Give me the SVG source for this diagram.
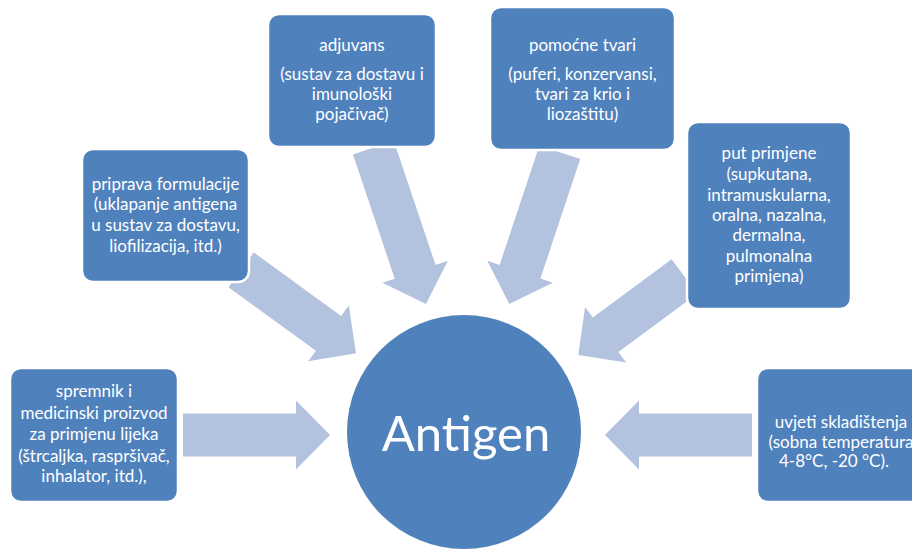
<svg xmlns="http://www.w3.org/2000/svg" width="912" height="554" viewBox="0 0 912 554">
<style>
.arrow{fill:#B3C2DE}
.box{fill:#4F81BD;stroke:#FFFFFF;stroke-width:2.5}
.t{font-family:Lato,"Liberation Sans",sans-serif;font-size:17px;fill:#FFFFFF;text-anchor:middle}
.big{font-family:Lato,"Liberation Sans",sans-serif;font-size:49px;fill:#FFFFFF;text-anchor:middle}
</style>
<rect width="912" height="554" fill="#FFFFFF"/>
<g id="connectors">
<polygon class="arrow" transform="translate(330,435)" points="-147,-21.5 -34,-21.5 -34,-34.5 0,0 -34,34.5 -34,21.5 -147,21.5"/>
<polygon class="arrow" transform="translate(605,435) rotate(180)" points="-147,-21.5 -34,-21.5 -34,-34.5 0,0 -34,34.5 -34,21.5 -147,21.5"/>
<polygon class="arrow" transform="translate(426,304) rotate(71.4)" points="-165,-21.5 -34,-21.5 -34,-34.5 0,0 -34,34.5 -34,21.5 -165,21.5"/>
<polygon class="arrow" transform="translate(509.3,304) rotate(108.4)" points="-160,-21.5 -34,-21.5 -34,-34.5 0,0 -34,34.5 -34,21.5 -160,21.5"/>
<polygon class="arrow" transform="translate(578.3,355) rotate(143.5)" points="-132,-21.5 -34,-21.5 -34,-34.5 0,0 -34,34.5 -34,21.5 -132,21.5"/>
<polygon class="arrow" transform="translate(356,353.3) rotate(36)" points="-142,-21.5 -34,-21.5 -34,-34.5 0,0 -34,34.5 -34,21.5 -142,21.5"/>
</g>
<g id="antigen">
<circle cx="464" cy="432" r="117" fill="#4F81BD"/>
<text class="big" x="466" y="451">Antigen</text>
</g>
<g id="adjuvans">
<rect class="box" x="268" y="14" width="168" height="133" rx="11"/>
<text class="t" x="352" y="51">adjuvans</text>
<text class="t" x="352" y="80">(sustav za dostavu i</text>
<text class="t" x="352" y="100">imunološki</text>
<text class="t" x="352" y="120">pojačivač)</text>
</g>
<g id="pomocne">
<rect class="box" x="490" y="7" width="185" height="143" rx="11"/>
<text class="t" x="582.5" y="51">pomoćne tvari</text>
<text class="t" x="582.5" y="80">(puferi, konzervansi,</text>
<text class="t" x="582.5" y="100">tvari za krio i</text>
<text class="t" x="582.5" y="120">liozaštitu)</text>
</g>
<g id="priprava">
<rect class="box" x="82" y="149" width="167" height="133" rx="11"/>
<text class="t" x="165.5" y="189.5">priprava formulacije</text>
<text class="t" x="165.5" y="210">(uklapanje antigena</text>
<text class="t" x="165.5" y="230.5">u sustav za dostavu,</text>
<text class="t" x="165.5" y="251.5">liofilizacija, itd.)</text>
</g>
<g id="put">
<rect class="box" x="687" y="122" width="164" height="187" rx="11"/>
<text class="t" x="769" y="159">put primjene</text>
<text class="t" x="769" y="180">(supkutana,</text>
<text class="t" x="769" y="200.5">intramuskularna,</text>
<text class="t" x="769" y="220.5">oralna, nazalna,</text>
<text class="t" x="769" y="241">dermalna,</text>
<text class="t" x="769" y="261.5">pulmonalna</text>
<text class="t" x="769" y="281.5">primjena)</text>
</g>
<g id="spremnik">
<rect class="box" x="10" y="368" width="168" height="134" rx="11"/>
<text class="t" x="94" y="397">spremnik i</text>
<text class="t" x="94" y="419">medicinski proizvod</text>
<text class="t" x="94" y="440">za primjenu lijeka</text>
<text class="t" x="94" y="461.5">(štrcaljka, raspršivač,</text>
<text class="t" x="94" y="482">inhalator, itd.),</text>
</g>
<g id="uvjeti">
<rect class="box" x="757" y="368" width="168" height="134" rx="11"/>
<text class="t" x="841" y="428">uvjeti skladištenja</text>
<text class="t" x="841" y="448">(sobna temperatura</text>
<text class="t" x="834" y="467">4-8°C, -20 °C).</text>
</g>
</svg>
